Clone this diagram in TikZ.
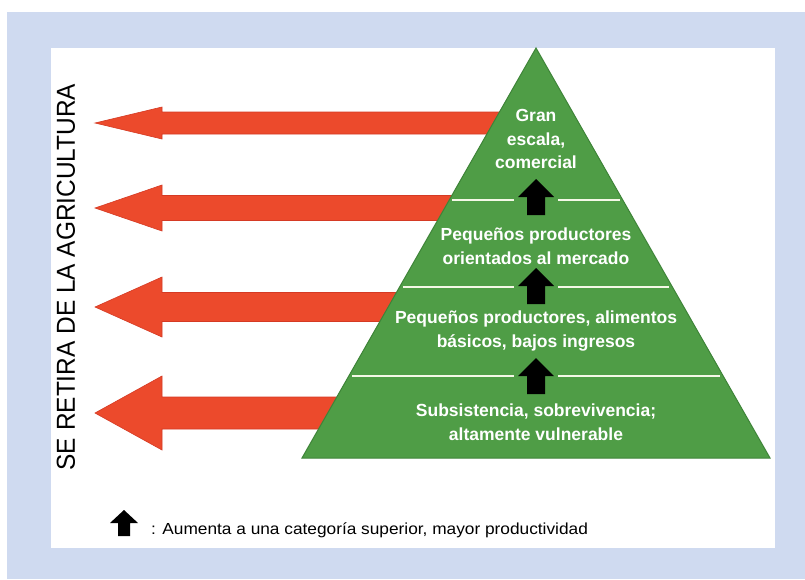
\documentclass[tikz,border=0pt]{standalone}
\usepackage{fontspec}
\setmainfont{Liberation Sans}
\definecolor{bgblue}{HTML}{CFDAF0}
\definecolor{arrowred}{HTML}{EC4A2C}
\definecolor{arrowedge}{HTML}{D53A24}
\definecolor{pgreen}{HTML}{4F9D46}
\definecolor{pedge}{HTML}{3E8438}
\definecolor{lcream}{HTML}{F4F8E6}
\tikzset{
  redarr/.style={fill=arrowred, draw=arrowedge, line width=0.6pt},
  uparr/.style={fill=black},
  divline/.style={draw=lcream, line width=2pt},
  tiertext/.style={text=white, font=\bfseries\fontsize{17.5}{23.5}\selectfont, align=center, inner sep=0pt},
  sidetext/.style={font=\fontsize{26}{28}\selectfont, inner sep=0pt},
  legtext/.style={font=\fontsize{16}{18}\selectfont, inner sep=0pt, anchor=west}
}
\begin{document}
\begin{tikzpicture}[x=1pt,y=-1pt]
\useasboundingbox (0,0) rectangle (805,579);
\fill[white] (0,0) rectangle (805,579);
\fill[bgblue] (7,12) rectangle (805,579);
\fill[white] (51,48) rectangle (775,548);
% red arrows
\foreach \cy/\s/\h in {123/11/16, 208/12.5/23, 307/14.5/30, 413/16/37}{
  \filldraw[redarr] (95,\cy) -- (162,\cy-\h) -- (162,\cy-\s) -- (520,\cy-\s) -- (520,\cy+\s) -- (162,\cy+\s) -- (162,\cy+\h) -- cycle;
}
% pyramid
\filldraw[fill=pgreen, draw=pedge, line width=1pt] (536,48) coordinate (apex) -- (770,458) coordinate (br) -- (302,458) coordinate (bl) -- cycle;
% divider lines
\draw[divline] (452,200) -- (514,200) (558,200) -- (620,200);
\draw[divline] (403,287) -- (514,287) (558,287) -- (669,287);
\draw[divline] (352,376) -- (514,376) (558,376) -- (720,376);
% up arrows
\foreach \t in {179,268,358}{
  \fill[uparr] (536,\t) -- (554,\t+18) -- (545,\t+18) -- (545,\t+36) -- (527,\t+36) -- (527,\t+18) -- (518,\t+18) -- cycle;
}
% tier texts
\node[tiertext] (t1) at (536,139) {Gran\\escala,\\comercial};
\node[tiertext] (t2) at (536,246) {Pequeños productores\\orientados al mercado};
\node[tiertext] (t3) at (536,331) {Pequeños productores, alimentos\\básicos, bajos ingresos};
\node[tiertext] (t4) at (536,422) {Subsistencia, sobrevivencia;\\altamente vulnerable};
% side text
\node[sidetext, rotate=90] (side) at (66,277) {\scalebox{0.94}[1]{SE RETIRA DE LA AGRICULTURA}};
% legend
\fill[uparr] (124,510) -- (138,523) -- (130,523) -- (130,536) -- (118,536) -- (118,523) -- (110,523) -- cycle;
\node[legtext] (leg) at (151,530) {\scalebox{1.08}[1]{: Aumenta a una categoría superior, mayor productividad}};
\end{tikzpicture}
\end{document}
